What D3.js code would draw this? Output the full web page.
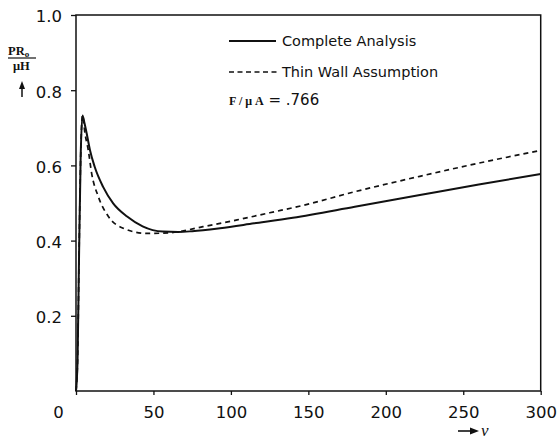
<!DOCTYPE html>
<html>
<head>
<meta charset="utf-8">
<script src="https://cdn.jsdelivr.net/npm/d3@7"></script>
<style>
body { margin: 0; background: #fff; }
svg { display: block; }
</style>
</head>
<body>
<svg width="557" height="440"></svg>
<script>
// values
var xTicks = [0, 50, 100, 150, 200, 250, 300];
var yTicks = [0.2, 0.4, 0.6, 0.8, 1.0];

var nuComplete = [0, 1, 2, 3, 4.2, 5.5, 7, 9, 12, 17.5, 24, 33, 43, 56, 66, 75, 93, 115, 140, 180, 222, 260, 300];
var complete = [0, 0.08, 0.37, 0.62, 0.733, 0.712, 0.683, 0.641, 0.597, 0.543, 0.499, 0.464, 0.438, 0.424, 0.423, 0.425, 0.433, 0.446, 0.461, 0.490, 0.521, 0.549, 0.577];

var nuThin = [0, 1, 2, 3, 4.2, 5.8, 7.9, 10.1, 14.4, 20.9, 30.5, 45.6, 60.7, 82, 104, 125, 145, 180, 222, 260, 300];
var thin = [0, 0.08, 0.37, 0.62, 0.733, 0.685, 0.641, 0.579, 0.517, 0.464, 0.433, 0.419, 0.421, 0.437, 0.455, 0.474, 0.492, 0.530, 0.571, 0.606, 0.640];

var legendLabels = ["Complete Analysis", "Thin Wall Assumption"];

var svg = d3.select("svg");
var x = d3.scaleLinear().domain([0, 300]).range([76, 540.7]);
var y = d3.scaleLinear().domain([0, 1]).range([391, 15]);

var tickFont = "DejaVu Sans, sans-serif";

// frame
svg.append("rect")
    .attr("x", x(0)).attr("y", y(1))
    .attr("width", x(300) - x(0)).attr("height", y(0) - y(1))
    .attr("fill", "none").attr("stroke", "#111").attr("stroke-width", 1.5);

var xAxis = svg.append("g")
    .attr("transform", "translate(0," + y(0) + ")")
    .call(d3.axisBottom(x).tickValues(xTicks).tickSize(4).tickPadding(11).tickFormat(d3.format("d")));
xAxis.select(".domain").remove();
xAxis.selectAll("line").attr("stroke", "#111").attr("stroke-width", 1.3);
xAxis.selectAll("text")
    .attr("font-family", tickFont).attr("font-size", 16.5).attr("fill", "#111")
    .attr("x", function (d) { return d === 0 ? -18 : 0; });

var yAxis = svg.append("g")
    .attr("transform", "translate(" + x(0) + ",0)")
    .call(d3.axisLeft(y).tickValues(yTicks).tickSize(5).tickPadding(9).tickFormat(d3.format(".1f")));
yAxis.select(".domain").remove();
yAxis.selectAll("line").attr("stroke", "#111").attr("stroke-width", 1.3);
yAxis.selectAll("text")
    .attr("font-family", tickFont).attr("font-size", 16.5).attr("fill", "#111")
    .attr("dy", "0.42em");

var line = d3.line()
    .x(function (d) { return x(d[0]); })
    .y(function (d) { return y(d[1]); })
    .curve(d3.curveMonotoneX);

svg.append("path")
    .datum(d3.zip(nuThin, thin))
    .attr("d", line)
    .attr("fill", "none").attr("stroke", "#111")
    .attr("stroke-width", 1.7).attr("stroke-dasharray", "5,4");

svg.append("path")
    .datum(d3.zip(nuComplete, complete))
    .attr("d", line)
    .attr("fill", "none").attr("stroke", "#111").attr("stroke-width", 2);

// legend
var legend = svg.append("g").attr("font-family", tickFont).attr("font-size", 14.5).attr("fill", "#111");
legend.append("line").attr("x1", 229).attr("x2", 276).attr("y1", 41).attr("y2", 41)
    .attr("stroke", "#111").attr("stroke-width", 1.8);
legend.append("line").attr("x1", 229).attr("x2", 278).attr("y1", 72).attr("y2", 72)
    .attr("stroke", "#111").attr("stroke-width", 1.6).attr("stroke-dasharray", "5,3.5");
legend.selectAll("text.lab").data(legendLabels).enter().append("text")
    .attr("class", "lab")
    .attr("x", 282).attr("y", function (d, i) { return 46 + i * 31; })
    .text(function (d) { return d; });

var param = legend.append("text").attr("x", 229).attr("y", 105);
param.append("tspan").attr("font-family", "Liberation Serif, serif").attr("font-weight", "bold")
    .attr("font-size", 12).text("F / \u03bc A");
param.append("tspan").attr("font-size", 15).text(" = .766");

// y label: PR0 / muH with arrow
var ylab = svg.append("g").attr("font-family", "Liberation Serif, serif").attr("font-weight", "bold").attr("fill", "#111");
var pr = ylab.append("text").attr("x", 8).attr("y", 55).attr("font-size", 12.5);
pr.append("tspan").text("PR");
pr.append("tspan").attr("font-size", 9).attr("dy", 2).text("o");
ylab.append("line").attr("x1", 8).attr("x2", 36).attr("y1", 58).attr("y2", 58)
    .attr("stroke", "#111").attr("stroke-width", 1.2);
ylab.append("text").attr("x", 13).attr("y", 70).attr("font-size", 12.5).text("\u03bcH");
svg.append("path").attr("d", "M22,97V85").attr("stroke", "#111").attr("stroke-width", 1.5);
svg.append("path").attr("d", "M22,81L19,89L25,89Z").attr("fill", "#111");

// x label: arrow and nu
svg.append("path").attr("d", "M458,431H472").attr("stroke", "#111").attr("stroke-width", 1.6);
svg.append("path").attr("d", "M479,431L470,427.5L470,434.5Z").attr("fill", "#111");
svg.append("text").attr("x", 481).attr("y", 436)
    .attr("font-family", "Liberation Serif, serif").attr("font-style", "italic")
    .attr("font-size", 17).attr("fill", "#111").text("\u03bd");
</script>
</body>
</html>
